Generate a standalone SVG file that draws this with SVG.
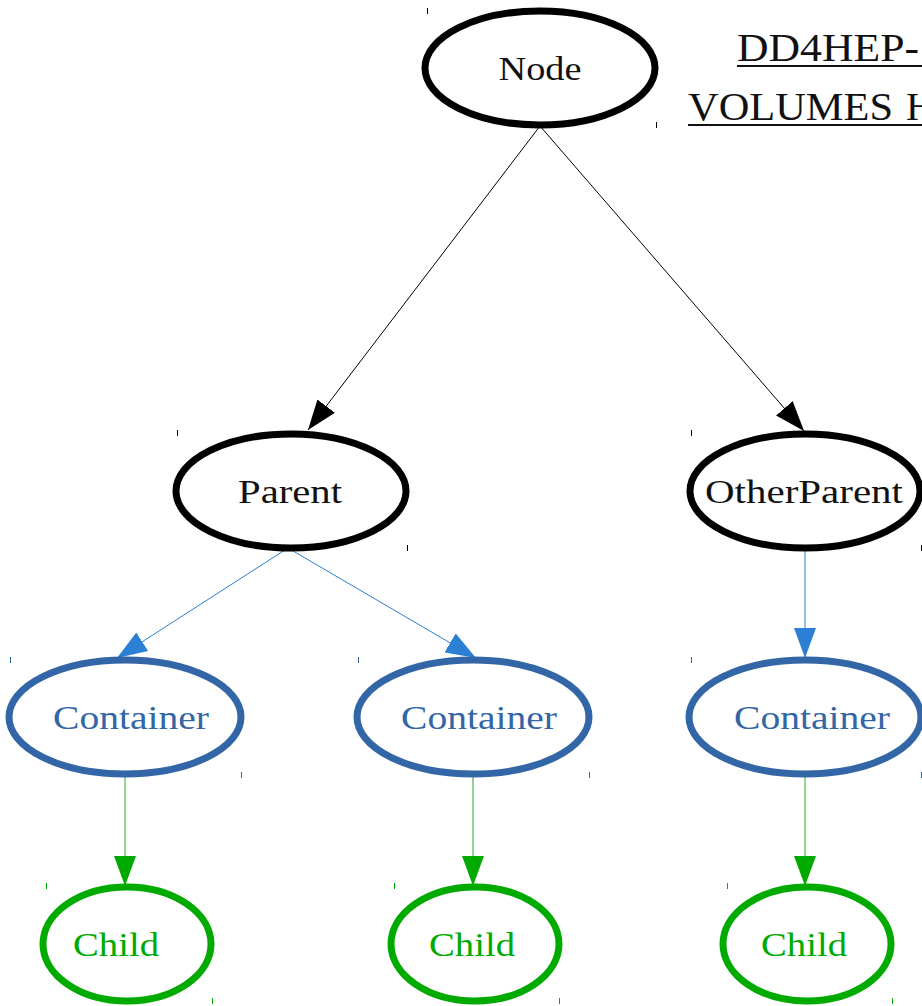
<svg xmlns="http://www.w3.org/2000/svg" width="922" height="1006" viewBox="0 0 922 1006" font-family="'Liberation Serif', serif">
<style>
text{font-family:'Liberation Serif',serif;font-size:34px;text-anchor:middle}
.k ellipse{fill:#fff;stroke:#000;stroke-width:7}
.k text{fill:#111}
.k .t{stroke:#000}
.b ellipse{fill:#fff;stroke:#3366a6;stroke-width:7}
.b text{fill:#3366a6}
.b .t{stroke:#3366a6}
.g ellipse{fill:#fff;stroke:#00aa00;stroke-width:7}
.g text{fill:#00aa00}
.g .t{stroke:#00aa00}
.t{stroke-width:1}
.ek{stroke:#000;stroke-width:1;fill:none;marker-end:url(#ak)}
.eb{stroke:#2b7fd4;stroke-width:1;fill:none;marker-end:url(#ab)}
.eg{stroke:#22aa22;stroke-width:1;fill:none;marker-end:url(#ag)}
.title{font-size:40px;text-anchor:start;fill:#111}
</style>
<defs>
<marker id="ak" viewBox="0 0 30 22" refX="30" refY="11" markerWidth="30" markerHeight="22" orient="auto" markerUnits="userSpaceOnUse"><path d="M0,0 L30,11 L0,22 z" fill="#000"/></marker>
<marker id="ab" viewBox="0 0 30 22" refX="30" refY="11" markerWidth="30" markerHeight="22" orient="auto" markerUnits="userSpaceOnUse"><path d="M0,0 L30,11 L0,22 z" fill="#2b7fd4"/></marker>
<marker id="ag" viewBox="0 0 30 22" refX="30" refY="11" markerWidth="30" markerHeight="22" orient="auto" markerUnits="userSpaceOnUse"><path d="M0,0 L30,11 L0,22 z" fill="#00aa00"/></marker>
</defs>
<g id="connectors">
<line class="ek" x1="540" y1="126" x2="308" y2="430"/>
<line class="ek" x1="540" y1="126" x2="804" y2="431"/>
<line class="eb" x1="288" y1="548" x2="117" y2="658"/>
<line class="eb" x1="288" y1="548" x2="476" y2="658"/>
<line class="eb" x1="805" y1="549" x2="805" y2="658"/>
<line class="eg" x1="125" y1="775" x2="125" y2="886"/>
<line class="eg" x1="473" y1="775" x2="473" y2="886"/>
<line class="eg" x1="805" y1="775" x2="805" y2="886"/>
</g>
<g id="title">
<text class="title" x="737" y="61" textLength="182" lengthAdjust="spacingAndGlyphs">DD4HEP-</text>
<line x1="737" y1="66" x2="922" y2="66" stroke="#111" stroke-width="2"/>
<text class="title" x="688" y="120" textLength="205" lengthAdjust="spacingAndGlyphs">VOLUMES</text>
<text class="title" x="906" y="120">H</text>
<line x1="688" y1="125" x2="922" y2="125" stroke="#111" stroke-width="2"/>
</g>
<g id="node-Node" class="k">
<ellipse cx="540" cy="68" rx="115" ry="57"/>
<line class="t" x1="427.5" y1="8" x2="427.5" y2="14"/><line class="t" x1="656.5" y1="122" x2="656.5" y2="128"/>
<text x="540" y="80" textLength="83" lengthAdjust="spacingAndGlyphs">Node</text>
</g>
<g id="node-Parent" class="k">
<ellipse cx="291" cy="491" rx="115" ry="57"/>
<line class="t" x1="177.5" y1="430" x2="177.5" y2="436"/><line class="t" x1="407.5" y1="545" x2="407.5" y2="551"/>
<text x="290" y="503" textLength="104" lengthAdjust="spacingAndGlyphs">Parent</text>
</g>
<g id="node-OtherParent" class="k">
<ellipse cx="805" cy="491" rx="115" ry="57"/>
<line class="t" x1="691.5" y1="430" x2="691.5" y2="436"/><line class="t" x1="921.5" y1="545" x2="921.5" y2="551"/>
<text x="804" y="503" textLength="198" lengthAdjust="spacingAndGlyphs">OtherParent</text>
</g>
<g id="node-Container1" class="b">
<ellipse cx="125" cy="717" rx="116" ry="57"/>
<line class="t" x1="10.5" y1="657" x2="10.5" y2="663"/><line class="t" x1="241.5" y1="772" x2="241.5" y2="778"/>
<text x="131" y="729" textLength="156" lengthAdjust="spacingAndGlyphs">Container</text>
</g>
<g id="node-Container2" class="b">
<ellipse cx="473" cy="717" rx="116" ry="57"/>
<line class="t" x1="358.5" y1="657" x2="358.5" y2="663"/><line class="t" x1="589.5" y1="772" x2="589.5" y2="778"/>
<text x="479" y="729" textLength="156" lengthAdjust="spacingAndGlyphs">Container</text>
</g>
<g id="node-Container3" class="b">
<ellipse cx="805" cy="717" rx="116" ry="57"/>
<line class="t" x1="691.5" y1="657" x2="691.5" y2="663"/><line class="t" x1="921.5" y1="772" x2="921.5" y2="778"/>
<text x="812" y="729" textLength="156" lengthAdjust="spacingAndGlyphs">Container</text>
</g>
<g id="node-Child1" class="g">
<ellipse cx="127" cy="944" rx="84" ry="57"/>
<line class="t" x1="46.5" y1="883" x2="46.5" y2="889"/><line class="t" x1="212.5" y1="998" x2="212.5" y2="1004"/>
<text x="116" y="956" textLength="86" lengthAdjust="spacingAndGlyphs">Child</text>
</g>
<g id="node-Child2" class="g">
<ellipse cx="475" cy="944" rx="84" ry="57"/>
<line class="t" x1="394.5" y1="883" x2="394.5" y2="889"/><line class="t" x1="559.5" y1="998" x2="559.5" y2="1004"/>
<text x="472" y="956" textLength="86" lengthAdjust="spacingAndGlyphs">Child</text>
</g>
<g id="node-Child3" class="g">
<ellipse cx="807" cy="944" rx="84" ry="57"/>
<line class="t" x1="727.5" y1="883" x2="727.5" y2="889"/><line class="t" x1="892.5" y1="998" x2="892.5" y2="1004"/>
<text x="804" y="956" textLength="86" lengthAdjust="spacingAndGlyphs">Child</text>
</g>
</svg>
